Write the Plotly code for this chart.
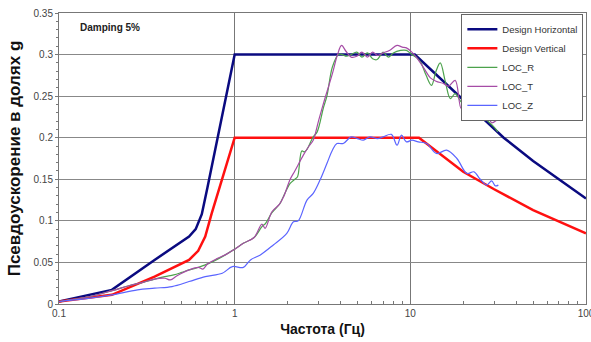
import plotly.graph_objects as go

# Design spectra
dh_f = [0.1, 0.2, 0.35, 0.44, 0.55, 0.6, 0.65, 0.7, 1.0, 10.6, 21, 34, 50, 100]
dh_v = [0.003, 0.017, 0.053, 0.067, 0.081, 0.09, 0.108, 0.14, 0.3, 0.3, 0.242, 0.2, 0.172, 0.127]

dv_f = [0.1, 0.2, 0.35, 0.55, 0.62, 0.68, 0.74, 0.85, 1.0, 11.2, 20, 30, 50, 100]
dv_v = [0.003, 0.011, 0.033, 0.053, 0.064, 0.081, 0.109, 0.15, 0.2, 0.2, 0.159, 0.138, 0.113, 0.085]

# Recorded spectra
r_f = [0.1, 0.15, 0.2, 0.25, 0.3, 0.35, 0.4, 0.45, 0.5, 0.55, 0.6, 0.68, 0.75, 0.85, 1.0, 1.12,
       1.29, 1.43, 1.5, 1.63, 1.8, 1.9, 2.07, 2.2, 2.28, 2.41, 2.5, 2.58, 2.8, 2.95, 3.2, 3.35,
       3.6, 3.9, 4.1, 4.33, 4.6, 4.96, 5.3, 5.7, 6.1, 6.47, 6.8, 7.0, 7.5, 8.0, 8.8, 9.5, 10.2,
       10.9, 11.5, 12.3, 13.2, 14.0, 14.8, 15.8, 16.9, 18.0, 19.5, 21, 23, 25.3, 27, 29.9, 31.5]
r_v = [0.003, 0.009, 0.016, 0.022, 0.026, 0.03, 0.033, 0.035, 0.038, 0.041, 0.043, 0.047, 0.051,
       0.057, 0.066, 0.073, 0.08, 0.093, 0.097, 0.11, 0.12, 0.13, 0.145, 0.15, 0.153, 0.184, 0.183,
       0.186, 0.201, 0.207, 0.236, 0.25, 0.285, 0.3, 0.3, 0.298, 0.3, 0.303, 0.297, 0.302, 0.295,
       0.294, 0.3, 0.303, 0.297, 0.302, 0.305, 0.305, 0.3, 0.296, 0.29, 0.275, 0.263, 0.28, 0.29,
       0.268, 0.247, 0.253, 0.243, 0.24, 0.234, 0.229, 0.222, 0.213, 0.207]

t_f = [0.1, 0.15, 0.2, 0.25, 0.3, 0.35, 0.4, 0.43, 0.47, 0.55, 0.62, 0.66, 0.7, 0.8, 0.9, 1.0,
       1.12, 1.29, 1.43, 1.49, 1.63, 1.8, 1.9, 2.07, 2.2, 2.46, 2.65, 2.8, 3.0, 3.2, 3.6, 3.85,
       4.06, 4.3, 4.6, 4.96, 5.3, 5.7, 6.1, 6.5, 7.0, 7.6, 8.4, 9.0, 9.5, 10.2, 10.9, 12, 13, 14,
       15.5, 16.5, 18, 19.5, 21, 22.5, 24.5, 26, 27.8, 29, 31]
t_v = [0.003, 0.009, 0.016, 0.022, 0.026, 0.03, 0.031, 0.029, 0.034, 0.041, 0.044, 0.042, 0.048,
       0.055, 0.06, 0.066, 0.073, 0.08, 0.096, 0.091, 0.111, 0.12, 0.129, 0.15, 0.16, 0.179, 0.19,
       0.197, 0.22, 0.241, 0.277, 0.3, 0.311, 0.304, 0.297, 0.298, 0.303, 0.297, 0.303, 0.299,
       0.302, 0.305, 0.311, 0.309, 0.308, 0.303, 0.296, 0.283, 0.272, 0.268, 0.265, 0.262, 0.269,
       0.235, 0.245, 0.232, 0.226, 0.232, 0.227, 0.218, 0.221]

z_f = [0.1, 0.15, 0.2, 0.28, 0.35, 0.44, 0.55, 0.68, 0.85, 0.97, 1.12, 1.23, 1.4, 1.66, 1.98,
       2.16, 2.3, 2.58, 2.8, 3.06, 3.35, 3.6, 3.82, 4.15, 4.6, 5.0, 5.4, 5.9, 6.5, 7.0, 7.8, 8.4,
       8.9, 9.5, 10.2, 11.1, 12.4, 14.1, 16.1, 18.4, 21, 23, 25, 27.2, 29, 30.5, 31.7]
z_v = [0.003, 0.007, 0.011, 0.017, 0.019, 0.021, 0.027, 0.033, 0.037, 0.045, 0.044, 0.053, 0.059,
       0.071, 0.085, 0.099, 0.1, 0.125, 0.133, 0.149, 0.169, 0.185, 0.193, 0.193, 0.201, 0.199,
       0.197, 0.201, 0.199, 0.201, 0.204, 0.191, 0.203, 0.195, 0.197, 0.195, 0.193, 0.181, 0.185,
       0.175, 0.157, 0.159, 0.15, 0.143, 0.148, 0.142, 0.143]

fig = go.Figure()
fig.add_trace(go.Scatter(x=dh_f, y=dh_v, mode="lines", name="Design Horizontal",
                         line=dict(color="#0a0a80", width=2.5)))
fig.add_trace(go.Scatter(x=dv_f, y=dv_v, mode="lines", name="Design Vertical",
                         line=dict(color="#ff1010", width=2.5)))
fig.add_trace(go.Scatter(x=r_f, y=r_v, mode="lines", name="LOC_R",
                         line=dict(color="#4ca24c", width=1.2, shape="spline")))
fig.add_trace(go.Scatter(x=t_f, y=t_v, mode="lines", name="LOC_T",
                         line=dict(color="#a64ca6", width=1.2, shape="spline")))
fig.add_trace(go.Scatter(x=z_f, y=z_v, mode="lines", name="LOC_Z",
                         line=dict(color="#5a64ff", width=1.2, shape="spline")))

font = "Liberation Sans, Arial, sans-serif"
fig.update_layout(
    width=591, height=342,
    margin=dict(l=59, r=5, t=13, b=38),
    paper_bgcolor="white", plot_bgcolor="white",
    font=dict(family=font, size=10, color="#333"),
    legend=dict(x=0.995, y=0.997, xanchor="right", yanchor="top",
                bgcolor="white", bordercolor="#666", borderwidth=1,
                font=dict(size=9.5, color="#333"), tracegroupgap=0,
                itemwidth=30),
    showlegend=True,
    annotations=[dict(text="<b>Damping 5%</b>", x=0.036, y=0.95, xref="paper", yref="paper",
                      xanchor="left", yanchor="middle", showarrow=False,
                      font=dict(size=10, color="#222"))],
)
fig.update_xaxes(type="log", range=[-1, 2], dtick=1, automargin=False,
                 ticklabeloverflow="allow",
                 showgrid=True, gridcolor="#777", gridwidth=1,
                 showline=True, linecolor="#777", linewidth=1, mirror=True,
                 ticks="", tickfont=dict(size=10, color="#444"),
                 minor=dict(ticks="inside", ticklen=3, tickcolor="#777", showgrid=False),
                 zeroline=False,
                 title=dict(text="<b>Частота (Гц)</b>", font=dict(size=14, color="#111"), standoff=6))
fig.update_yaxes(range=[0, 0.35], dtick=0.05, automargin=False,
                 showgrid=True, gridcolor="#888", gridwidth=1.3,
                 showline=True, linecolor="#777", linewidth=1, mirror=True,
                 ticks="outside", ticklen=3, tickcolor="#777", tickfont=dict(size=10, color="#444"),
                 minor=dict(dtick=0.01, ticks="outside", ticklen=2, tickcolor="#777", showgrid=False),
                 zeroline=False,
                 title=dict(text="<b>Псевдоускорение в долях g</b>", font=dict(size=17, color="#111"),
                            standoff=8))

fig.write_html("out.html")
